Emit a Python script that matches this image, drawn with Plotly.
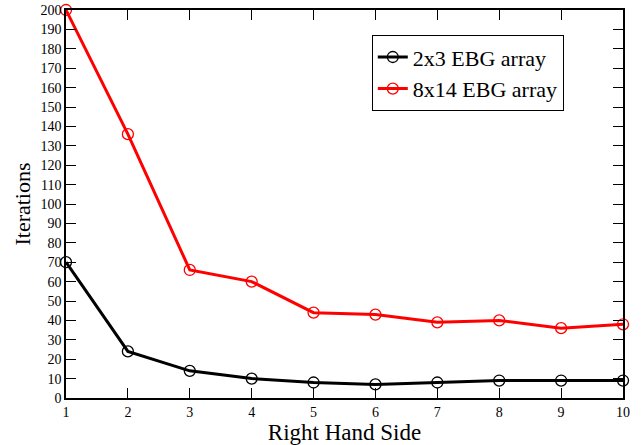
import plotly.graph_objects as go

rhs = [1, 2, 3, 4, 5, 6, 7, 8, 9, 10]
iters_2x3 = [70, 24, 14, 10, 8, 7, 8, 9, 9, 9]
iters_8x14 = [200, 136, 66, 60, 44, 43, 39, 40, 36, 38]
series_names = ["2x3 EBG array", "8x14 EBG array"]
y_ticks = list(range(0, 201, 10))

fig = go.Figure()
fig.add_trace(go.Scatter(
    x=rhs, y=iters_2x3, name=series_names[0], mode="lines+markers",
    line=dict(color="black", width=3),
    marker=dict(symbol="circle-open", size=11, color="black", line=dict(width=1.3)),
    cliponaxis=False,
))
fig.add_trace(go.Scatter(
    x=rhs, y=iters_8x14, name=series_names[1], mode="lines+markers",
    line=dict(color="red", width=3),
    marker=dict(symbol="circle-open", size=11, color="red", line=dict(width=1.3)),
    cliponaxis=False,
))

font_family = "Liberation Serif"
fig.update_layout(
    width=643, height=445,
    margin=dict(l=66, r=20, t=10, b=47, autoexpand=False),
    paper_bgcolor="white", plot_bgcolor="white",
    font=dict(family=font_family, color="black"),
    showlegend=True,
    legend=dict(
        x=0.549, y=0.935, xanchor="left", yanchor="top",
        bordercolor="black", borderwidth=1, bgcolor="white",
        font=dict(family=font_family, size=22, color="black"),
        itemwidth=30, tracegroupgap=0,
    ),
    xaxis=dict(
        range=[1, 10], tickvals=rhs, ticktext=[str(v) for v in rhs],
        ticks="inside", ticklen=10, tickwidth=1, tickcolor="black",
        showline=True, linecolor="black", linewidth=1.5, mirror="ticks",
        showgrid=False, zeroline=False, automargin=False,
        tickfont=dict(family=font_family, size=14, color="black"),
        title=dict(text="Right Hand Side", font=dict(family=font_family, size=23, color="black"), standoff=4),
    ),
    yaxis=dict(
        range=[0, 200], tickvals=y_ticks, ticktext=[str(v) for v in y_ticks],
        ticks="inside", ticklen=10, tickwidth=1, tickcolor="black",
        showline=True, linecolor="black", linewidth=1.5, mirror="ticks",
        showgrid=False, zeroline=False, automargin=False,
        tickfont=dict(family=font_family, size=14, color="black"),
        title=dict(text="Iterations", font=dict(family=font_family, size=22, color="black"), standoff=4),
    ),
)

fig.write_html(
    "out.html",
    config={"displayModeBar": False},
    post_script="document.body.style.margin='0px';",
)
